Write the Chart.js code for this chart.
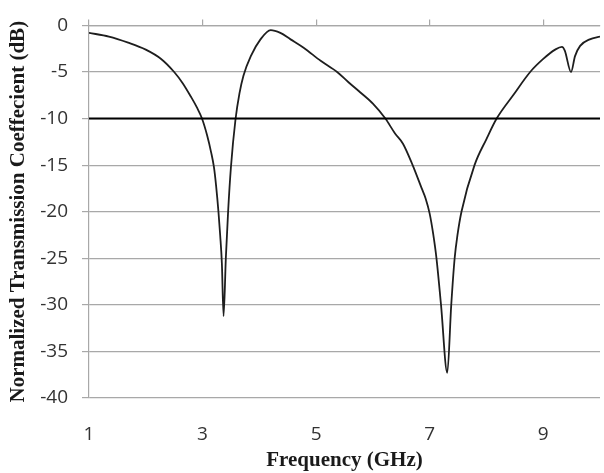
<!DOCTYPE html>
<html>
<head>
<meta charset="utf-8">
<script src="https://cdn.jsdelivr.net/npm/chart.js@4"></script>
<style>
  html, body { margin: 0; padding: 0; background: #ffffff; }
  #wrap { width: 604px; height: 473px; position: relative; }
</style>
</head>
<body>
<div id="wrap"><canvas id="c" width="604" height="473"></canvas></div>
<script>
// Frequency (GHz) sample points
const frequency = [1.00, 1.35, 1.69, 2.00, 2.27, 2.50, 2.65, 2.79, 2.90, 2.99, 3.08, 3.15, 3.20, 3.24, 3.28, 3.31, 3.34, 3.37, 3.41, 3.45, 3.50, 3.58, 3.65, 3.72, 3.85, 4.02, 4.20, 4.37, 4.55, 4.78, 5.08, 5.37, 5.57, 5.78, 6.00, 6.22, 6.39, 6.53, 6.70, 6.86, 6.93, 7.00, 7.06, 7.12, 7.20, 7.31, 7.38, 7.44, 7.49, 7.56, 7.79, 8.00, 8.18, 8.47, 8.77, 9.00, 9.21, 9.33, 9.38, 9.49, 9.56, 9.65, 9.82, 10.00];
// Normalized transmission coefficient (dB)
const transmission = [-0.8, -1.2, -1.85, -2.6, -3.6, -5.0, -6.2, -7.6, -8.8, -10.0, -11.8, -13.6, -15.2, -17.3, -20.0, -22.5, -25.5, -31.2, -25.0, -20.0, -15.2, -10.1, -7.3, -5.4, -3.3, -1.5, -0.5, -0.8, -1.5, -2.4, -3.8, -5.0, -6.1, -7.2, -8.4, -10.0, -11.6, -12.7, -15.0, -17.5, -18.6, -20.2, -22.3, -25.0, -30.0, -37.3, -30.0, -25.0, -22.5, -20.0, -15.0, -12.2, -10.0, -7.5, -5.0, -3.6, -2.6, -2.3, -2.7, -5.0, -3.3, -2.2, -1.5, -1.2];
// -10 dB reference line
const thresholdFreq = [1, 10];
const thresholdLevel = [-10, -10];
// Axis ticks
const xTickValues = [1, 3, 5, 7, 9];
const yMin = -40, yMax = 0, yStep = 5;
const xMin = 1, xMax = 10;

const curve = frequency.map((f, i) => ({ x: f, y: transmission[i] }));
const threshold = thresholdFreq.map((f, i) => ({ x: f, y: thresholdLevel[i] }));

const GRID = '#a8a8a8';
const setXTicks = (scale) => { scale.ticks = xTickValues.map(v => ({ value: v })); };

new Chart(document.getElementById('c'), {
  type: 'line',
  data: {
    datasets: [
      {
        data: threshold,
        borderColor: '#000000',
        borderWidth: 2,
        pointRadius: 0,
        tension: 0,
        xAxisID: 'x', yAxisID: 'y'
      },
      {
        data: curve,
        borderColor: '#1e1e1e',
        borderWidth: 1.8,
        pointRadius: 0,
        cubicInterpolationMode: 'monotone',
        xAxisID: 'x', yAxisID: 'y'
      }
    ]
  },
  options: {
    responsive: false,
    animation: false,
    devicePixelRatio: 1,
    layout: { padding: { top: 0, right: 4, bottom: 0, left: 0 } },
    plugins: { legend: { display: false }, tooltip: { enabled: false } },
    scales: {
      x: {
        type: 'linear', position: 'bottom', min: xMin, max: xMax,
        afterBuildTicks: setXTicks,
        afterFit: (s) => { s.height = 75; },
        grid: { display: false, drawTicks: false },
        border: { display: false },
        ticks: { padding: 25, color: '#333333', font: { family: 'Open Sans', size: 19 }, maxRotation: 0, autoSkip: false },
        title: { display: true, text: 'Frequency (GHz)', color: '#1a1a1a', padding: { top: 0, bottom: 0 },
                 font: { family: 'Liberation Serif', size: 21, weight: 'bold' } }
      },
      x2: {
        type: 'linear', position: 'top', min: xMin, max: xMax,
        afterBuildTicks: setXTicks,
        afterFit: (s) => { s.height = 19; },
        grid: { drawOnChartArea: false, drawTicks: true, tickLength: 6, color: GRID, lineWidth: 1.2 },
        border: { display: true, color: GRID, width: 1.2 },
        ticks: { display: false }
      },
      y: {
        type: 'linear', position: 'left', min: yMin, max: yMax,
        afterFit: (s) => { s.width = 89; },
        grid: { color: GRID, lineWidth: 1.2, tickLength: 7, drawTicks: true },
        border: { display: true, color: GRID, width: 1.2 },
        ticks: { stepSize: yStep, padding: 14, color: '#333333', font: { family: 'Open Sans', size: 19 } },
        title: { display: true, text: 'Normalized Transmission Coeffecient (dB)', color: '#1a1a1a', padding: { top: 6, bottom: 0 },
                 font: { family: 'Liberation Serif', size: 21, weight: 'bold' } }
      }
    }
  }
});
</script>
</body>
</html>
